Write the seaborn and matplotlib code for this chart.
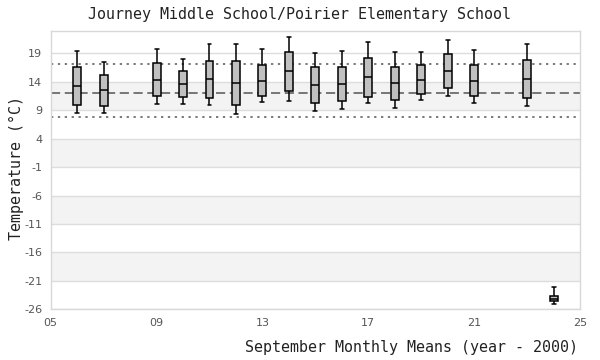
import numpy as np
import pandas as pd
import matplotlib
matplotlib.use("Agg")
import matplotlib.pyplot as plt
import seaborn as sns

# ---- data ----
years = [6, 7, 9, 10, 11, 12, 13, 14, 15, 16, 17, 18, 19, 20, 21, 23, 24]
whisker_low = [8.47, 8.47, 10.05, 10.05, 9.87, 8.29, 10.40, 10.58, 8.82, 9.17, 10.22, 9.35, 10.75, 11.45, 10.22, 9.70, -25.07]
q1 = [9.87, 9.70, 11.45, 11.28, 11.10, 9.87, 11.45, 12.33, 10.22, 10.58, 11.39, 10.75, 11.80, 12.86, 11.45, 11.10, -24.55]
median = [13.21, 12.50, 14.26, 13.56, 14.43, 13.73, 14.08, 15.84, 13.38, 13.62, 14.79, 13.73, 14.26, 15.84, 14.08, 14.43, -24.15]
q3 = [16.54, 15.14, 17.24, 15.84, 17.59, 17.59, 16.89, 19.17, 16.54, 16.54, 18.12, 16.54, 16.89, 18.82, 16.89, 17.77, -23.73]
whisker_high = [19.35, 17.53, 19.82, 18.06, 20.58, 20.58, 19.70, 21.80, 19.00, 19.35, 20.93, 19.17, 19.17, 21.28, 19.52, 20.58, -22.15]

mean_line = 11.94
upper_line = 17.17
lower_line = 7.77

y_ticks = [-26, -21, -16, -11, -6, -1, 4, 9, 14, 19]
x_ticks = [5, 9, 13, 17, 21, 25]
x_tick_labels = ["05", "09", "13", "17", "21", "25"]

title = "Journey Middle School/Poirier Elementary School"
xlabel = "September Monthly Means (year - 2000)"
ylabel = "Temperature (°C)"

# five values per year reproduce min/q1/median/q3/max exactly
rows = []
for i, yr in enumerate(years):
    for v in (whisker_low[i], q1[i], median[i], q3[i], whisker_high[i]):
        rows.append({"year": yr, "temp": v})
df = pd.DataFrame(rows)

sns.set_theme(style="white")
plt.rcParams["font.family"] = ["DejaVu Sans"]

fig = plt.figure(figsize=(6, 3.6), dpi=100)
ax = fig.add_axes([0.0845, 0.141, 0.8822, 0.774])

# background bands
for lo in [9, -1, -11, -21]:
    ax.axhspan(lo, lo + 5, color="#f3f3f3", zorder=0, lw=0)
for t in y_ticks:
    ax.axhline(t, color="#dddddd", lw=1, zorder=0.5)

ax.axhline(upper_line, color="#555555", lw=1.1, ls=(0, (1.5, 3)), zorder=1)
ax.axhline(lower_line, color="#555555", lw=1.1, ls=(0, (1.5, 3)), zorder=1)
ax.axhline(mean_line, color="#555555", lw=1.1, ls=(0, (6, 3)), zorder=1)

sns.boxplot(data=df, x="year", y="temp", native_scale=True, whis=np.inf,
            width=0.3, color="#c0c0c0", linecolor="black", linewidth=1.1,
            ax=ax, zorder=3,
            boxprops=dict(facecolor="#c0c0c0", edgecolor="black"),
            capprops=dict(color="black"), whiskerprops=dict(color="black"),
            medianprops=dict(color="black"))

ax.set_xlim(5, 25)
ax.set_ylim(-26, 23)
ax.set_yticks(y_ticks)
ax.set_yticklabels([str(t) for t in y_ticks])
ax.set_xticks(x_ticks)
ax.set_xticklabels(x_tick_labels)
ax.tick_params(axis="both", length=0, labelsize=8, colors="#555555", pad=6)
for s in ax.spines.values():
    s.set_color("#d8d8d8")
    s.set_linewidth(1)

mono = ["DejaVu Sans Mono"]
ax.set_xlabel("")
ax.set_ylabel("")
fig.text(0.5, 0.96, title, ha="center", va="center", family=mono, fontsize=10.8, color="#222222")
fig.text(0.963, 0.035, xlabel, ha="right", va="center", family=mono, fontsize=10.8, color="#222222")
fig.text(0.028, 0.533, ylabel, ha="center", va="center", rotation=90, family=mono, fontsize=10.8, color="#222222")

fig.savefig("out.png", dpi=100)
